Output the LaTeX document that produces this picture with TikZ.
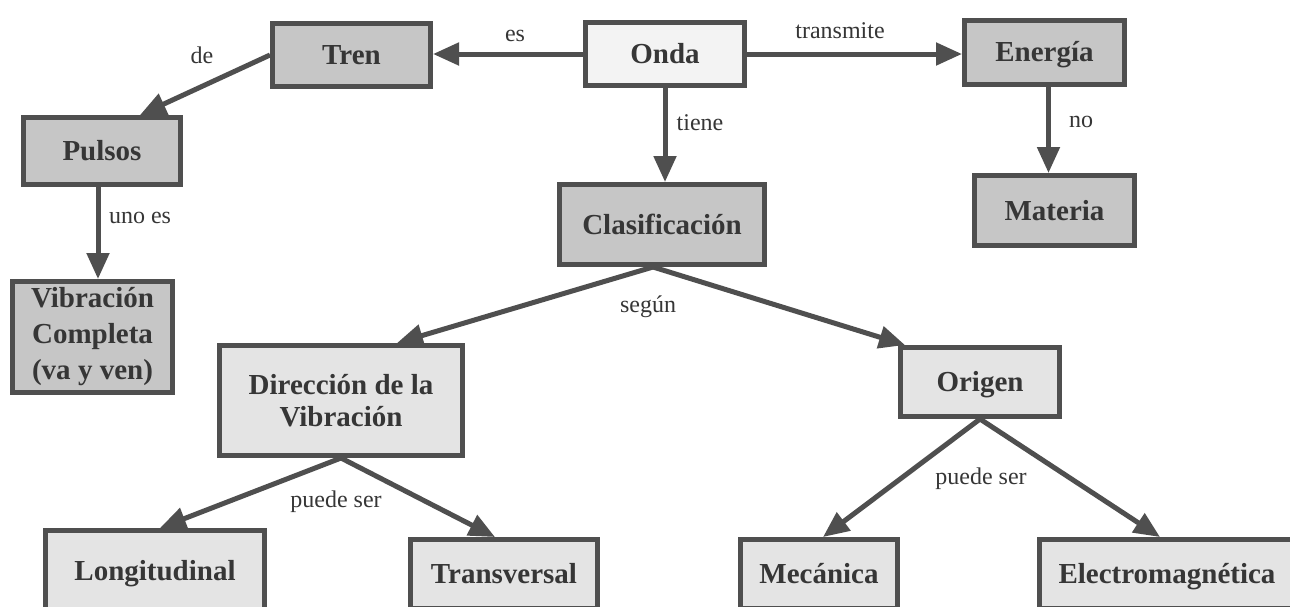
\documentclass[tikz,border=0pt]{standalone}
\usepackage{fontspec}
\setmainfont{Liberation Serif}
\usetikzlibrary{arrows.meta}
\definecolor{edgec}{HTML}{4F4F4F}
\definecolor{darkfill}{HTML}{C6C6C6}
\definecolor{lightfill}{HTML}{E4E4E4}
\definecolor{ondafill}{HTML}{F3F3F3}
\definecolor{txt}{HTML}{363636}
\begin{document}
\begin{tikzpicture}[x=1pt,y=-1pt,
  box/.style={draw=edgec, line width=5pt, rectangle, inner sep=0pt, text=txt,
    font=\bfseries\fontsize{29}{35}\selectfont, align=center},
  single/.style={text height=19pt, text depth=0pt},
  darkbox/.style={box, fill=darkfill},
  lightbox/.style={box, fill=lightfill},
  conn/.style={draw=edgec, line width=5pt, -{Triangle[length=26pt,width=22pt]}},
  lbl/.style={text=txt, font=\fontsize{24}{28}\selectfont, inner sep=0pt,
    text height=11pt, text depth=0pt}
]
\useasboundingbox (0,0) rectangle (1290,606);
\fill[white] (0,0) rectangle (1290,606);

% nodes
\node[box, single, fill=ondafill, minimum width=159pt, minimum height=63pt] (onda) at (665,54) {Onda};
\node[darkbox, single, minimum width=158pt, minimum height=63pt] (tren) at (351.5,55) {Tren};
\node[darkbox, single, minimum width=160pt, minimum height=64pt] (ener) at (1044.5,52) {Energía};
\node[darkbox, single, minimum width=157pt, minimum height=67pt] (pulsos) at (102,151) {Pulsos};
\node[darkbox, single, minimum width=160pt, minimum height=70pt] (materia) at (1054.5,210.5) {Materia};
\node[darkbox, single, minimum width=205pt, minimum height=80pt] (clas) at (662,224.5) {Clasificación};
\node[darkbox, font=\bfseries\fontsize{29}{36}\selectfont, minimum width=160pt, minimum height=111pt] (vib) at (92.5,337) {Vibración\\Completa\\(va y ven)};
\node[lightbox, font=\bfseries\fontsize{29}{32}\selectfont, minimum width=243pt, minimum height=110pt] (dir) at (341,400.5) {Dirección de la\\Vibración};
\node[lightbox, single, minimum width=159pt, minimum height=69pt] (origen) at (980,382) {Origen};
\node[lightbox, single, minimum width=219pt, minimum height=81pt] (long) at (155,571) {Longitudinal};
\node[lightbox, single, minimum width=187pt, minimum height=69pt] (trans) at (504,574) {Transversal};
\node[lightbox, single, minimum width=157pt, minimum height=69pt] (mec) at (819,574) {Mecánica};
\node[lightbox, single, minimum width=255pt, minimum height=69pt] (elec) at (1167,574) {Electromagnética};

% connectors
\draw[conn] (onda.west) -- (onda.west -| tren.east);
\draw[conn] (onda.east) -- (onda.east -| ener.west);
\draw[conn] (onda.south) -- (onda.south |- clas.north);
\draw[conn] ([xshift=4pt]ener.south) -- ([xshift=4pt]ener.south |- materia.north);
\draw[conn] (tren.west) -- ([xshift=38pt]pulsos.north);
\draw[conn] ([xshift=-4pt]pulsos.south) -- ([xshift=-4pt]pulsos.south |- vib.north);
\draw[conn] ([xshift=-9pt]clas.south) -- ([xshift=56pt]dir.north);
\draw[conn] ([xshift=-9pt]clas.south) -- ([xshift=7pt]origen.north west);
\draw[conn] (dir.south) -- ([xshift=5pt]long.north);
\draw[conn] (dir.south) -- ([xshift=-9pt]trans.north);
\draw[conn] (origen.south) -- ([xshift=4pt]mec.north);
\draw[conn] (origen.south) -- ([xshift=-7pt]elec.north);

% labels
\node[lbl] (les) at (515,36) {es};
\node[lbl] (ltrans) at (840,33) {transmite};
\node[lbl] (ltiene) at (700,125) {tiene};
\node[lbl] (lno) at (1081,122) {no};
\node[lbl] (lde) at (202,58) {de};
\node[lbl] (luno) at (140,218) {uno es};
\node[lbl] (lsegun) at (648,307) {según};
\node[lbl] (lpuede1) at (336,502) {puede ser};
\node[lbl] (lpuede2) at (981,479) {puede ser};
\end{tikzpicture}
\end{document}
